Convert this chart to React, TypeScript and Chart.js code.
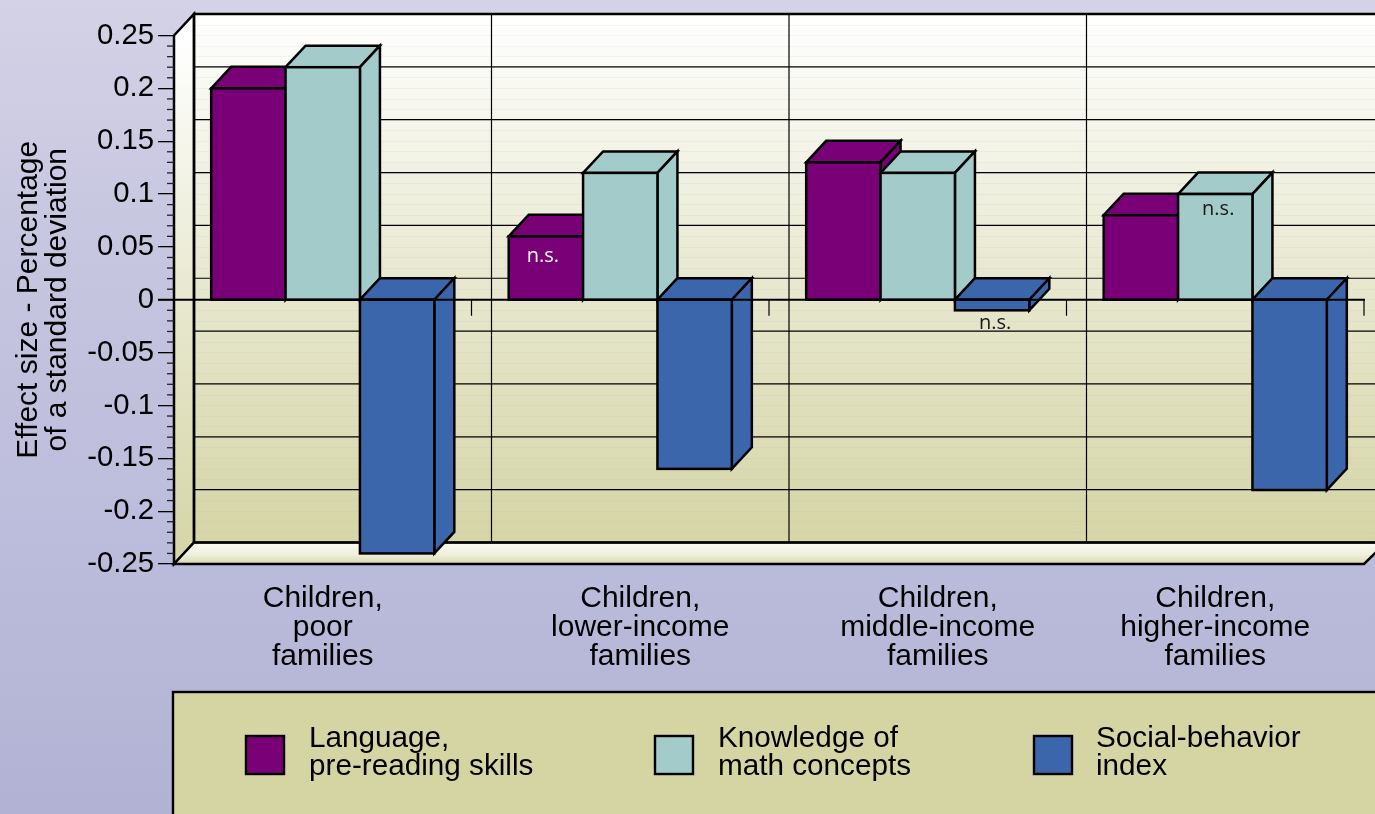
import React, { useEffect, useRef } from "react";
import { Chart, registerables } from "chart.js";

Chart.register(...registerables);

const categories = [
  ["Children,", "poor", "families"],
  ["Children,", "lower-income", "families"],
  ["Children,", "middle-income", "families"],
  ["Children,", "higher-income", "families"],
];
const languageValues = [0.2, 0.06, 0.13, 0.08];
const mathValues = [0.22, 0.12, 0.12, 0.1];
const socialValues = [-0.24, -0.16, -0.01, -0.18];
const seriesNames = [
  ["Language,", "pre-reading skills"],
  ["Knowledge of", "math concepts"],
  ["Social-behavior", "index"],
];
const axisTitle = ["Effect size - Percentage", "of a standard deviation"];
const notSignificant = [
  { series: 0, category: 1, color: "#ffffff", dx: -3, dy: 20 },
  { series: 1, category: 3, color: "#1a1a1a", dx: 3, dy: 15 },
  { series: 2, category: 2, color: "#1a1a1a", dx: 3, dy: 13 },
];

const PURPLE = "#7a0077";
const TEAL = "#a3cbc9";
const BLUE = "#3b66ab";
const FONT = "'Liberation Sans', Arial, sans-serif";
const DX = 20;
const DY = 21.5;
const STROKE = 2.5;
const labelShift = [0, 20, 20, 0];
const legendKeyX = [246, 655, 1034];
const legendTextX = [309, 718, 1096];

const poly = (ctx: CanvasRenderingContext2D, pts: number[][], fill: any, stroke = true) => {
  ctx.beginPath();
  pts.forEach((p, i) => (i ? ctx.lineTo(p[0], p[1]) : ctx.moveTo(p[0], p[1])));
  ctx.closePath();
  ctx.fillStyle = fill;
  ctx.fill();
  if (stroke) {
    ctx.strokeStyle = "#000";
    ctx.lineWidth = STROKE;
    ctx.lineJoin = "miter";
    ctx.stroke();
  }
};

const scenePlugin = {
  id: "scene",
  beforeDraw(chart: any) {
    const { ctx, width, height, chartArea: a, scales } = chart;
    const y = scales.y;
    ctx.save();
    const bg = ctx.createLinearGradient(0, 0, 0, height);
    bg.addColorStop(0, "#d4d2e6");
    bg.addColorStop(0.3, "#c6c6e0");
    bg.addColorStop(0.65, "#bcbcdc");
    bg.addColorStop(1, "#b2b2d4");
    ctx.fillStyle = bg;
    ctx.fillRect(0, 0, width, height);

    const top = a.top - DY;
    const bottom = a.bottom - DY;
    const left = a.left + DX;
    const wall = ctx.createLinearGradient(0, top, 0, bottom);
    wall.addColorStop(0, "#ffffff");
    wall.addColorStop(0.5, "#e8e8d0");
    wall.addColorStop(1, "#d5d5a6");
    ctx.fillStyle = wall;
    ctx.fillRect(left, top, width - left + 5, bottom - top);

    // faint minor lines on the back wall
    ctx.strokeStyle = "rgba(170,170,190,0.11)";
    ctx.lineWidth = 1;
    for (let i = -25; i <= 25; i++) {
      const py = Math.round(y.getPixelForValue(i / 100) - DY) + 0.5;
      ctx.beginPath();
      ctx.moveTo(left, py);
      ctx.lineTo(width, py);
      ctx.stroke();
    }
    // major wall lines
    ctx.strokeStyle = "#000";
    ctx.lineWidth = 1.2;
    y.ticks.forEach((t: any) => {
      const py = y.getPixelForValue(t.value) - DY;
      ctx.beginPath();
      ctx.moveTo(left, py);
      ctx.lineTo(width, py);
      ctx.stroke();
    });
    const x = scales.x;
    const band = (a.right - a.left) / categories.length;
    for (let i = 1; i < categories.length; i++) {
      const px = x.getPixelForTick(i) - band / 2 + DX;
      ctx.beginPath();
      ctx.moveTo(px, top);
      ctx.lineTo(px, bottom);
      ctx.stroke();
    }
    // left wall
    const lw = ctx.createLinearGradient(0, a.top, 0, a.bottom);
    lw.addColorStop(0, "#ffffff");
    lw.addColorStop(0.5, "#e8e8d0");
    lw.addColorStop(1, "#d5d5a6");
    poly(ctx, [[a.left, a.top], [left, top], [left, bottom], [a.left, a.bottom]], lw);
    // floor
    const fl = ctx.createLinearGradient(0, bottom, 0, a.bottom);
    fl.addColorStop(0, "#fbfbf2");
    fl.addColorStop(0.55, "#f0f0de");
    fl.addColorStop(1, "#d9d9b0");
    poly(ctx, [[a.left, a.bottom], [left, bottom], [a.right + DX + 2, bottom], [a.right, a.bottom]], fl);
    // top edge of the back wall
    ctx.strokeStyle = "#000";
    ctx.lineWidth = 2.4;
    ctx.beginPath();
    ctx.moveTo(width + 2, top);
    ctx.lineTo(left, top);
    ctx.lineTo(left, bottom);
    ctx.stroke();
    ctx.lineWidth = 2;
    ctx.beginPath();
    ctx.moveTo(left, bottom);
    ctx.lineTo(width + 2, bottom);
    ctx.stroke();

    // legend panel
    ctx.fillStyle = "#d4d5a3";
    ctx.fillRect(173, 692, width, height);
    ctx.strokeStyle = "#000";
    ctx.lineWidth = 2.4;
    ctx.strokeRect(173, 692, width, height);
    ctx.restore();

    // move the category labels the way the reference places them
    const items = x.getLabelItems(a);
    if (!x.$shifted) {
      items.forEach((it: any, i: number) => (it.options.translation[0] += labelShift[i]));
      x.$shifted = true;
    }
  },
  beforeDatasetsDraw(chart: any) {
    const { ctx, scales } = chart;
    const zero = scales.y.getPixelForValue(0);
    chart.data.datasets.forEach((ds: any, di: number) => {
      const meta = chart.getDatasetMeta(di);
      meta.data.forEach((el: any) => {
        const { x, y, width } = el.getProps(["x", "y", "width"]);
        const l = x - width / 2;
        const r = x + width / 2;
        const t = Math.min(y, zero);
        const b = Math.max(y, zero);
        ctx.save();
        poly(ctx, [[l, t], [l + DX, t - DY], [r + DX, t - DY], [r, t]], ds.backgroundColor);
        poly(ctx, [[r, t], [r + DX, t - DY], [r + DX, b - DY], [r, b]], ds.backgroundColor);
        ctx.restore();
        el.draw(ctx, chart.chartArea);
        ctx.save();
        ctx.strokeStyle = "#000";
        ctx.lineWidth = STROKE;
        ctx.strokeRect(l, t, r - l, b - t);
        ctx.restore();
      });
    });
    return false;
  },
  afterDraw(chart: any) {
    const { ctx, chartArea: a, scales } = chart;
    const zero = scales.y.getPixelForValue(0);
    const y = scales.y;
    ctx.save();
    // zero line and its drop ticks
    ctx.strokeStyle = "#000";
    ctx.lineWidth = 2.2;
    ctx.beginPath();
    ctx.moveTo(a.left - 16, zero);
    ctx.lineTo(a.right + 1, zero);
    ctx.stroke();
    ctx.lineWidth = 1.2;
    const band = (a.right - a.left) / categories.length;
    for (let i = 0; i < categories.length; i++) {
      const px = scales.x.getPixelForTick(i) + band / 2;
      ctx.beginPath();
      ctx.moveTo(px, zero);
      ctx.lineTo(px, zero + 16);
      ctx.stroke();
    }
    // minor y ticks
    ctx.lineWidth = 1.3;
    ctx.strokeStyle = "#222";
    for (let i = -25; i <= 25; i++) {
      if (i % 5 === 0) continue;
      const py = y.getPixelForValue(i / 100);
      ctx.beginPath();
      ctx.moveTo(a.left - 7, py);
      ctx.lineTo(a.left, py);
      ctx.stroke();
    }
    // n.s. notes
    ctx.font = "20px 'Open Sans', sans-serif";
    ctx.textAlign = "center";
    ctx.textBaseline = "middle";
    notSignificant.forEach((n) => {
      const el = chart.getDatasetMeta(n.series).data[n.category];
      const { x, y: vy } = el.getProps(["x", "y"]);
      ctx.fillStyle = n.color;
      ctx.fillText("n.s.", x + n.dx, vy + n.dy);
    });
    // legend
    ctx.textAlign = "left";
    ctx.font = `29.7px ${FONT}`;
    chart.data.datasets.forEach((ds: any, i: number) => {
      ctx.fillStyle = ds.backgroundColor;
      ctx.fillRect(legendKeyX[i], 736, 38, 38);
      ctx.strokeStyle = "#000";
      ctx.lineWidth = 2.4;
      ctx.strokeRect(legendKeyX[i], 736, 38, 38);
      ctx.fillStyle = "#000";
      seriesNames[i].forEach((line, j) => ctx.fillText(line, legendTextX[i], 739 + j * 28));
    });
    ctx.restore();
  },
};

export default function App() {
  const ref = useRef<HTMLCanvasElement>(null);
  useEffect(() => {
    const makeSet = (values: number[], color: string, i: number) => ({
      label: seriesNames[i].join(" "),
      data: values,
      backgroundColor: color,
      borderWidth: 0,
    });
    const chart = new Chart(ref.current!, {
      type: "bar",
      data: {
        labels: categories,
        datasets: [makeSet(languageValues, PURPLE, 0), makeSet(mathValues, TEAL, 1), makeSet(socialValues, BLUE, 2)],
      },
      plugins: [scenePlugin],
      options: {
        responsive: false,
        animation: false,
        layout: { padding: { top: 35.5, right: 11, left: 0, bottom: 0 } },
        plugins: { legend: { display: false }, tooltip: { enabled: false }, title: { display: false } },
        datasets: { bar: { barPercentage: 1, categoryPercentage: 0.75 } },
        scales: {
          x: {
            grid: { display: false },
            border: { display: false },
            afterFit: (s: any) => { s.height = 250; },
            ticks: {
              autoSkip: false,
              maxRotation: 0,
              minRotation: 0,
              padding: 12,
              color: "#000",
              font: { family: FONT, size: 30, lineHeight: 0.97 },
            },
          },
          y: {
            min: -0.25,
            max: 0.25,
            afterFit: (s: any) => { s.width = 174; },
            grid: { drawOnChartArea: false, color: "#000", lineWidth: 1.3, tickLength: 16 },
            border: { display: true, color: "#000", width: 2 },
            title: {
              display: true,
              text: axisTitle,
              color: "#000",
              padding: { top: 14, bottom: 0 },
              font: { family: FONT, size: 30, lineHeight: 0.97, weight: "normal" },
            },
            ticks: {
              stepSize: 0.05,
              padding: 4,
              color: "#000",
              font: { family: FONT, size: 29.3 },
              callback: (v: any) => String(+Number(v).toFixed(2)),
            },
          },
        },
      },
    } as any);
    return () => chart.destroy();
  }, []);
  return (
    <div style={{ position: "fixed", left: 0, top: 0, width: 1375, height: 814, overflow: "hidden" }}>
      <canvas ref={ref} width={1375} height={814} style={{ display: "block" }} />
    </div>
  );
}
